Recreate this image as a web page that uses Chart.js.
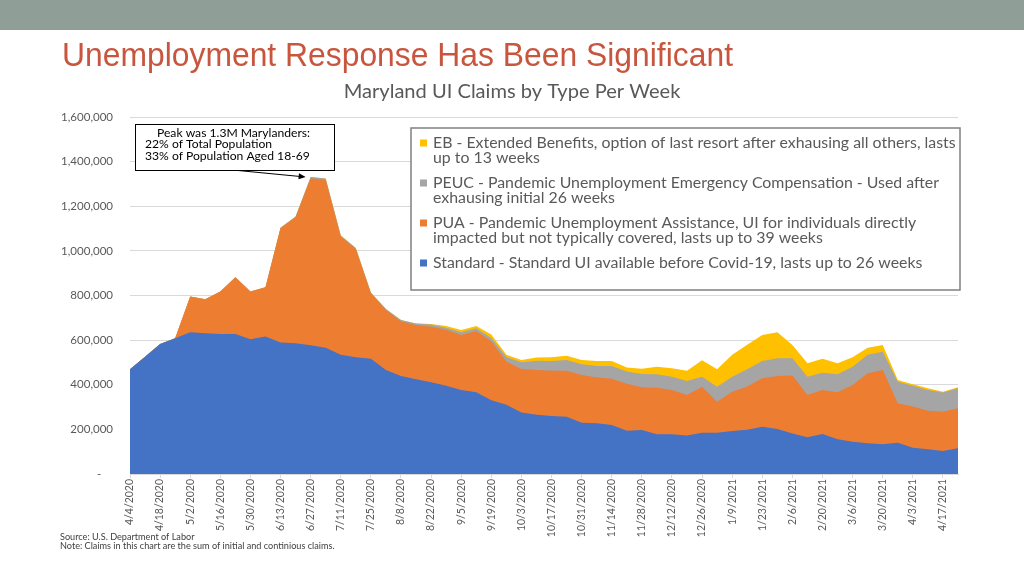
<!DOCTYPE html>
<html><head><meta charset="utf-8">
<script src="https://cdn.jsdelivr.net/npm/chart.js@4/dist/chart.umd.min.js"></script>
<style>
html,body{margin:0;padding:0;background:#fff;width:1024px;height:576px;overflow:hidden}
#band{position:absolute;left:0;top:0;width:1024px;height:30px;background:#8f9e96}
#title{position:absolute;left:62px;top:37px;font-family:'Liberation Sans Narrow','Liberation Sans',Arial,sans-serif;font-size:34px;color:#c8553d;white-space:nowrap;transform-origin:0 0;line-height:1}
#wrap{position:absolute;left:0;top:0;width:1024px;height:576px}
</style></head>
<body>
<div id="band"></div>
<div id="wrap"><canvas id="c"></canvas></div>
<div id="title">Unemployment Response Has Been Significant</div>
<script>
const pageTitle = 'Unemployment Response Has Been Significant';
const chartTitle = 'Maryland UI Claims by Type Per Week';
const weeks = ['4/4/2020','4/11/2020','4/18/2020','4/25/2020','5/2/2020','5/9/2020','5/16/2020','5/23/2020','5/30/2020','6/6/2020',
 '6/13/2020','6/20/2020','6/27/2020','7/4/2020','7/11/2020','7/18/2020','7/25/2020','8/1/2020','8/8/2020','8/15/2020',
 '8/22/2020','8/29/2020','9/5/2020','9/12/2020','9/19/2020','9/26/2020','10/3/2020','10/10/2020','10/17/2020','10/24/2020',
 '10/31/2020','11/7/2020','11/14/2020','11/21/2020','11/28/2020','12/5/2020','12/12/2020','12/19/2020','12/26/2020','1/2/2021',
 '1/9/2021','1/16/2021','1/23/2021','1/30/2021','2/6/2021','2/13/2021','2/20/2021','2/27/2021','3/6/2021','3/13/2021',
 '3/20/2021','3/27/2021','4/3/2021','4/10/2021','4/17/2021','4/24/2021'];
const standard = [470000,526000,583000,608000,635000,631000,628000,628000,604000,616000,
 589000,586000,577000,566000,534000,523000,516000,466000,439000,425000,
 411000,395000,377000,366000,330000,310000,276000,265000,260000,257000,
 230000,227000,220000,194000,197000,178000,178000,173000,185000,185000,
 193000,198000,212000,202000,182000,165000,179000,156000,145000,138000,
 133000,140000,118000,111000,103000,115000];
const pua = [0,0,0,0,160000,152000,190000,254000,214000,221000,
 513000,565000,749000,752000,530000,485000,294000,269000,244000,243000,
 249000,251000,246000,275000,265000,194000,195000,201000,203000,206000,
 214000,205000,207000,210000,192000,209000,199000,181000,206000,139000,
 176000,194000,217000,237000,259000,189000,198000,210000,254000,314000,
 333000,177000,184000,173000,176000,180000];
const peuc = [0,0,0,0,0,0,0,0,0,0,
 2000,3000,5000,6000,5000,5000,3000,5000,7000,7000,
 10000,10000,12000,12000,15000,20000,30000,42000,44000,48000,
 48000,52000,57000,55000,59000,60000,59000,63000,45000,67000,
 67000,78000,78000,80000,78000,82000,77000,81000,82000,82000,
 82000,97000,93000,93000,86000,89000];
const eb = [0,0,0,0,0,0,0,0,0,0,
 0,0,0,0,0,0,0,0,0,0,
 2000,7000,10000,10000,15000,10000,10000,14000,16000,19000,
 19000,23000,23000,18000,24000,34000,38000,46000,74000,78000,
 98000,109000,116000,116000,59000,60000,62000,49000,42000,32000,
 30000,7000,7000,7000,4000,5000];
const seriesLabels = [
 'Standard - Standard UI available before Covid-19, lasts up to 26 weeks',
 'PUA - Pandemic Unemployment Assistance, UI for individuals directly impacted but not typically covered, lasts up to 39 weeks',
 'PEUC - Pandemic Unemployment Emergency Compensation - Used after exhausing initial 26 weeks',
 'EB - Extended Benefits, option of last resort after exhausing all others, lasts up to 13 weeks'];
const seriesColors = ['#4472C4','#ED7D31','#A5A5A5','#FFC000'];
const yMax = 1600000, yStep = 200000;
const noteLines = ['Peak was 1.3M Marylanders:','22% of Total Population','33% of Population Aged 18-69'];
const footLines = ['Source: U.S. Department of Labor','Note: Claims in this chart are the sum of initial and continious claims.'];

(function(){const t=document.getElementById('title');const w=t.getBoundingClientRect().width;t.style.transform='scaleX('+(671/w)+')';})();

function fitSize(ctx, text, width, family){ctx.font='100px '+family;return 100*width/ctx.measureText(text).width;}
function wrap(ctx, text, maxW){const words=text.split(' ');const lines=[];let cur='';
 for(const w of words){const t=cur?cur+' '+w:w;if(ctx.measureText(t).width>maxW&&cur){lines.push(cur);cur=w;}else cur=t;}
 if(cur)lines.push(cur);return lines;}

const overlay = {
 id:'overlay',
 afterDraw(chart){
  const ctx=chart.ctx, ca=chart.chartArea, xs=chart.scales.x, ys=chart.scales.y;
  ctx.save();
  let fs=fitSize(ctx,chartTitle,337,'Lato');
  ctx.font=fs+'px Lato';ctx.fillStyle='#595959';ctx.textAlign='center';ctx.textBaseline='middle';
  ctx.fillText(chartTitle,512,92);
  const bx=411,by=128,bw=ca.right+2-411,bh=162;
  ctx.fillStyle='#fff';ctx.fillRect(bx,by,bw,bh);
  ctx.strokeStyle='#808080';ctx.lineWidth=1.5;ctx.strokeRect(bx,by,bw,bh);
  fs=fitSize(ctx,'EB - Extended Benefits, option of last resort after exhausing all others, lasts',523,'Lato');
  ctx.font=fs+'px Lato';ctx.textAlign='left';
  [3,2,1,0].forEach((di,k)=>{
   const y0=143+40*k;
   ctx.fillStyle=seriesColors[di];ctx.fillRect(420,y0-3.5,7,7);
   ctx.fillStyle='#595959';
   wrap(ctx,seriesLabels[di],527).forEach((ln,j)=>ctx.fillText(ln,433,y0+j*14.5));
  });
  ctx.fillStyle='#fff';ctx.fillRect(135.5,124.5,199,46);
  ctx.strokeStyle='#000';ctx.lineWidth=1;ctx.strokeRect(135.5,124.5,199,46);
  fs=fitSize(ctx,noteLines[2],165,'Lato');
  ctx.font=fs+'px Lato';ctx.fillStyle='#000';
  ctx.fillText(noteLines[0],157,133.5);ctx.fillText(noteLines[1],145,144.5);ctx.fillText(noteLines[2],145,156);
  let pk=0,pv=0;standard.forEach((v,i)=>{const t=v+pua[i]+peuc[i]+eb[i];if(t>pv){pv=t;pk=i;}});
  const ex=xs.getPixelForValue(pk)-5, ey=ys.getPixelForValue(pv), sx=238, sy=170.5;
  const ang=Math.atan2(ey-sy,ex-sx);
  ctx.strokeStyle='#000';ctx.lineWidth=1;ctx.beginPath();ctx.moveTo(sx,sy);ctx.lineTo(ex-6*Math.cos(ang),ey-6*Math.sin(ang));ctx.stroke();
  ctx.fillStyle='#000';ctx.beginPath();ctx.moveTo(ex,ey);
  ctx.lineTo(ex-7*Math.cos(ang)+3*Math.sin(ang),ey-7*Math.sin(ang)-3*Math.cos(ang));
  ctx.lineTo(ex-7*Math.cos(ang)-3*Math.sin(ang),ey-7*Math.sin(ang)+3*Math.cos(ang));ctx.closePath();ctx.fill();
  fs=fitSize(ctx,footLines[1],275,'Lato');
  ctx.font=fs+'px Lato';ctx.fillStyle='#404040';
  ctx.fillText(footLines[0],60,537);ctx.fillText(footLines[1],60,546.5);
  ctx.restore();
 }
};

const mk=(i,data)=>({label:seriesLabels[i],data,backgroundColor:seriesColors[i],borderColor:seriesColors[i],borderWidth:0,pointRadius:0,pointHoverRadius:0,fill:'origin',tension:0});
new Chart(document.getElementById('c'),{
 type:'line',
 data:{labels:weeks,datasets:[mk(0,standard),mk(1,pua),mk(2,peuc),mk(3,eb)]},
 options:{
  responsive:true,maintainAspectRatio:false,animation:false,
  layout:{padding:{left:0,right:66,top:117,bottom:0}},
  plugins:{legend:{display:false},tooltip:{enabled:false},title:{display:false}},
  scales:{
   x:{type:'category',offset:false,
    grid:{drawOnChartArea:false,drawTicks:true,tickLength:4,color:c=>c.index%2===0?'#d9d9d9':'rgba(0,0,0,0)'},
    border:{display:true,color:'#d9d9d9',width:1},
    ticks:{autoSkip:false,maxRotation:90,minRotation:90,padding:1,color:'#595959',font:{family:'Lato',size:10.5},
     callback:(v,i)=>i%2===0?weeks[i]:''},
    afterFit:s=>{s.height=102;}},
   y:{stacked:true,min:0,max:yMax,
    ticks:{stepSize:yStep,padding:17,color:'#595959',font:{family:'Lato',size:11.5},
     callback:v=>v===0?'-    ':Number(v).toLocaleString('en-US')},
    grid:{color:'#d9d9d9',drawTicks:false},border:{display:false},
    afterFit:s=>{s.width=130;}}
  }
 },
 plugins:[overlay]
});
</script>
</body></html>
